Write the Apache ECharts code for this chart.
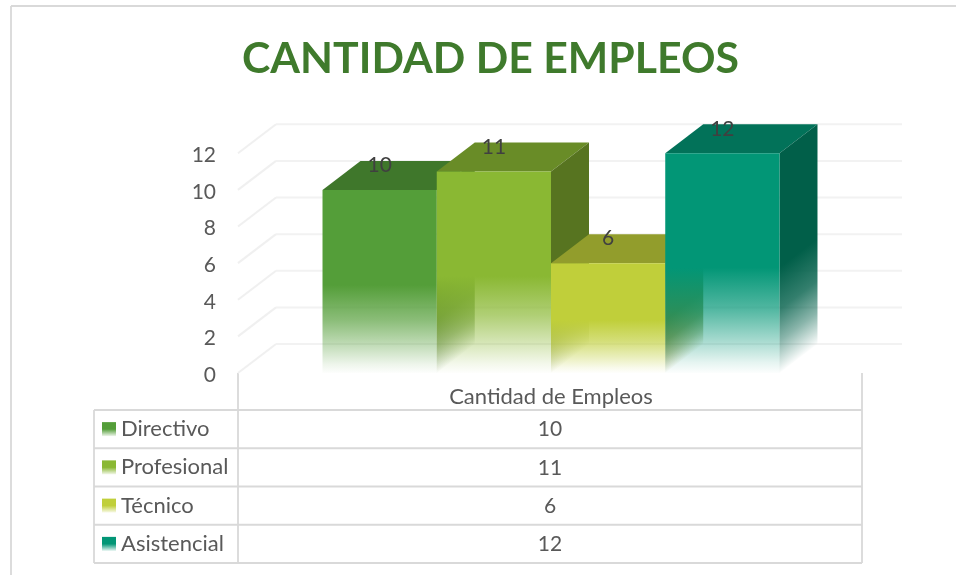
<!DOCTYPE html>
<html>
<head>
<meta charset="utf-8">
<style>html,body{margin:0;padding:0;background:#fff}#c{width:956px;height:575px}</style>
<script src="https://cdn.jsdelivr.net/npm/echarts@6/dist/echarts.min.js"></script>
</head>
<body>
<div id="c"></div>
<script>
const titleText = 'CANTIDAD DE EMPLEOS';
const categoryLabels = ['Cantidad de Empleos'];
const seriesNames = ['Directivo', 'Profesional', 'Técnico', 'Asistencial'];
const directivoValues = [10];
const profesionalValues = [11];
const tecnicoValues = [6];
const asistencialValues = [12];
const frontColors = ['#549e39', '#8ab833', '#c0cf3a', '#029676'];
const topColors = ['#3f772b', '#698c27', '#929d2c', '#027259'];
const sideColors = ['#35631f', '#577420', '#798225', '#015f49'];
const tickValues = [0, 2, 4, 6, 8, 10, 12];

const allValues = [directivoValues, profesionalValues, tecnicoValues, asistencialValues];
const FONT = 'Lato, "Open Sans", sans-serif';
const DX = 38, DY = -29, FADE_AT = 0.52;
const GL = 238, GR = 864, GT = 153.3, GB = 373;
const BAR_SHARE = 0.1825;
const LINE = '#d9d9d9';
const G = echarts.graphic;

function rgba(hex, a) {
  const n = parseInt(hex.slice(1), 16);
  return 'rgba(' + (n >> 16) + ',' + ((n >> 8) & 255) + ',' + (n & 255) + ',' + a + ')';
}
function fadeStops(c, boost) {
  return [
    { offset: 0, color: rgba(c, 1) },
    { offset: 0.4, color: rgba(c, 0.68 + boost) },
    { offset: 0.7, color: rgba(c, 0.34 + boost) },
    { offset: 0.9, color: rgba(c, 0.1 + boost / 2) },
    { offset: 1, color: rgba(c, 0.01) }
  ];
}
function barRender(si) {
  return function (params, api) {
    const v = api.value(1);
    const top = api.coord([0, v]);
    const base = api.coord([0, 0]);
    const w = api.size([1, 0])[0] * BAR_SHARE;
    const x0 = top[0] + (si - 2) * w;
    const x1 = x0 + w;
    const yT = top[1], yB = base[1];
    const yF = yT + (yB - yT) * FADE_AT;
    const h = yB - yF;
    const frontFill = new G.LinearGradient(0, yT, 0, yB, [
      { offset: 0, color: rgba(frontColors[si], 1) },
      { offset: FADE_AT, color: rgba(frontColors[si], 1) }
    ].concat(fadeStops(frontColors[si], 0).slice(1).map(s => ({
      offset: FADE_AT + s.offset * (1 - FADE_AT), color: s.color
    }))), true);
    const sideFill = new G.LinearGradient(x1, yF, x1 + 0.482 * h, yF + 0.632 * h, fadeStops(sideColors[si], 0.12), true);
    const poly = (pts, fill) => ({ type: 'polygon', shape: { points: pts }, style: { fill: fill } });
    return {
      type: 'group',
      children: [
        poly([[x0, yT], [x1, yT], [x1 + DX, yT + DY], [x0 + DX, yT + DY]], topColors[si]),
        poly([[x1, yT], [x1 + DX, yT + DY], [x1 + DX, yB + DY], [x1, yB]], sideFill),
        { type: 'rect', shape: { x: x0, y: yT, width: w, height: yB - yT }, style: { fill: frontFill } },
        { type: 'text', z2: 100, style: {
            text: String(v), x: (x0 + x1) / 2, y: yT - 24.5, align: 'center', verticalAlign: 'middle',
            fill: '#404040', font: '21px ' + FONT } }
      ]
    };
  };
}
function wallRender(params, api) {
  const p = api.coord([0, api.value(1)]);
  const xL = api.coord([0, 0])[0] - api.size([1, 0])[0] / 2;
  return {
    type: 'group',
    children: [
      { type: 'line', shape: { x1: xL, y1: p[1], x2: xL + DX, y2: p[1] + DY }, style: { stroke: '#f0f0f0', lineWidth: 2 } },
      { type: 'line', shape: { x1: xL + DX, y1: p[1] + DY, x2: xL + DX + (GR - GL), y2: p[1] + DY }, style: { stroke: '#f2f2f2', lineWidth: 2 } }
    ]
  };
}

// data table under the plot
const tableTop = 410, rowH = 38.25, tableLeft = 94;
const table = [];
const hLine = (x1, y1, x2, y2) => ({ type: 'line', shape: { x1, y1, x2, y2 }, style: { stroke: LINE, lineWidth: 1.8 }, silent: true });
seriesNames.forEach((name, i) => {
  const y = tableTop + rowH * i, yc = y + rowH / 2;
  table.push(hLine(tableLeft, y + rowH, GR - 2, y + rowH));
  table.push({ type: 'rect', shape: { x: 102, y: yc - 7, width: 14, height: 14 }, style: {
    fill: new G.LinearGradient(0, 0, 0, 1, [
      { offset: 0, color: frontColors[i] }, { offset: 0.5, color: frontColors[i] }, { offset: 1, color: rgba(frontColors[i], 0.1) }
    ]) } });
  table.push({ type: 'text', style: { text: name, x: 121, y: yc, verticalAlign: 'middle', fill: '#595959', font: '22px ' + FONT } });
  table.push({ type: 'text', style: { text: String(allValues[i][0]), x: 550, y: yc + 0.5, align: 'center', verticalAlign: 'middle', fill: '#595959', font: '21px ' + FONT } });
});
table.push(hLine(tableLeft, tableTop, GR - 2, tableTop));
table.push(hLine(tableLeft, tableTop, tableLeft, tableTop + rowH * 4));
table.push(hLine(GL, GB, GL, tableTop + rowH * 4));
table.push(hLine(GR - 2, GB, GR - 2, tableTop + rowH * 4));
// outer chart frame
table.push(hLine(11, 6, 956, 6));
table.push(hLine(11, 6, 11, 575));

const chart = echarts.init(document.getElementById('c'), null, { renderer: 'canvas' });
chart.setOption({
  animation: false,
  backgroundColor: '#fff',
  title: {
    text: titleText, left: 485.5, top: 33, textAlign: 'center',
    textStyle: { fontFamily: FONT, fontWeight: 'bold', fontSize: 42.8, color: '#3f7a2c' }
  },
  grid: { left: GL, top: GT, width: GR - GL, height: GB - GT, containLabel: false },
  xAxis: {
    type: 'category', data: categoryLabels,
    axisLine: { show: false }, axisTick: { show: false }, splitLine: { show: false },
    axisLabel: { margin: 13, fontFamily: FONT, fontSize: 22, color: '#595959' }
  },
  yAxis: {
    type: 'value', min: 0, max: 12, interval: 2,
    axisLine: { show: false }, axisTick: { show: false }, splitLine: { show: false },
    axisLabel: {
      margin: 22, formatter: '{n|{value}}',
      rich: { n: { fontFamily: FONT, fontSize: 21, color: '#595959', padding: [4, 0, 0, 0] } }
    }
  },
  graphic: { elements: table },
  series: [
    { type: 'custom', name: 'walls', renderItem: wallRender, silent: true, z: 1,
      encode: { x: 0, y: 1 }, data: tickValues.map(t => [0, t]) }
  ].concat(seriesNames.map((name, i) => ({
    type: 'custom', name, z: 2 + i, renderItem: barRender(i),
    encode: { x: 0, y: 1 }, data: [[0, allValues[i][0]]]
  })))
});
</script>
</body>
</html>
